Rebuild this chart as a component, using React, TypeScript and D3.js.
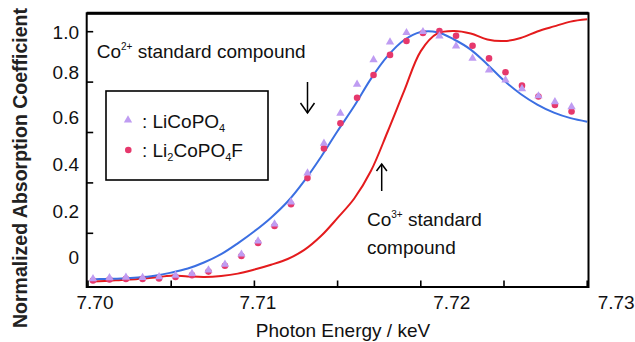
import React from 'react';
import * as d3 from 'd3';

// Reference spectra (Co K-edge XANES), sampled every 1 eV
const lineEnergies = [
  7.7002, 7.701, 7.702, 7.703, 7.704, 7.705, 7.706, 7.707, 7.708, 7.709, 7.71,
  7.711, 7.712, 7.713, 7.714, 7.715, 7.716, 7.717, 7.718, 7.719, 7.72,
  7.721, 7.722, 7.723, 7.724, 7.725, 7.726, 7.727, 7.728, 7.729, 7.73,
];
const co2Standard = [
  0.017, 0.019, 0.021, 0.025, 0.032, 0.044, 0.06, 0.085, 0.117, 0.16, 0.208,
  0.262, 0.326, 0.408, 0.503, 0.606, 0.705, 0.813, 0.903, 0.967, 0.999,
  0.998, 0.969, 0.929, 0.87, 0.806, 0.753, 0.711, 0.679, 0.657, 0.643,
];
const co3Standard = [
  0.009, 0.011, 0.015, 0.019, 0.025, 0.032, 0.029, 0.027, 0.031, 0.04, 0.056,
  0.075, 0.098, 0.134, 0.189, 0.261, 0.338, 0.447, 0.602, 0.765, 0.923,
  0.993, 1.003, 0.993, 0.969, 0.963, 0.975, 1.001, 1.021, 1.04, 1.049,
];

// Measured samples
const sampleEnergies = [
  7.7003, 7.70129, 7.70228, 7.70328, 7.70427, 7.70526, 7.70625, 7.70724, 7.70823, 7.70922,
  7.71022, 7.71121, 7.7122, 7.71319, 7.71418, 7.71517, 7.71617, 7.71716, 7.71815, 7.71914,
  7.72013, 7.72112, 7.72212, 7.72311, 7.7241, 7.72509, 7.72608, 7.72707, 7.72806, 7.72906,
];
const liCoPO4 = [
  0.019, 0.023, 0.025, 0.024, 0.027, 0.033, 0.04, 0.054, 0.077, 0.117,
  0.169, 0.237, 0.324, 0.439, 0.557, 0.676, 0.791, 0.888, 0.959, 0.996,
  1.0, 0.983, 0.943, 0.894, 0.848, 0.808, 0.773, 0.745, 0.722, 0.702,
];
const li2CoPO4F = [
  0.013, 0.017, 0.019, 0.019, 0.021, 0.027, 0.034, 0.048, 0.071, 0.11,
  0.162, 0.229, 0.315, 0.419, 0.537, 0.637, 0.738, 0.828, 0.908, 0.963,
  0.995, 1.003, 0.984, 0.944, 0.894, 0.839, 0.786, 0.743, 0.709, 0.683,
];

const xTickValues = [7.7, 7.705, 7.71, 7.715, 7.72, 7.725, 7.73];
const xLabelValues = [7.7, 7.71, 7.72, 7.73];
const xLabelShift = [7, 3.5, 31, 29];
const yTickValues = [0.2, 0.4, 0.6, 0.8, 1.0];
const yLabelValues = [0, 0.2, 0.4, 0.6, 0.8, 1.0];
const yLabelShift = [-26.7, -22.6, -19.2, -15.4, -9.6, 0];

const FONT = '"Liberation Sans", Arial, sans-serif';
const BLUE = '#3b6fe2';
const RED = '#e41b1d';
const LAVENDER = '#bf9cf2';
const PINK = '#e6386c';

export default function App() {
  const frame = { left: 86.7, right: 588.5, top: 13.3, bottom: 287 };
  const x = d3.scaleLinear().domain([7.7, 7.73]).range([88, 587.2]);
  const y = d3.scaleLinear().domain([0, 1]).range([283.7, 31.7]);

  const line = d3
    .line<[number, number]>()
    .x((d) => x(d[0]))
    .y((d) => y(d[1]))
    .curve(d3.curveCatmullRom.alpha(0.5));

  const bluePath = line(lineEnergies.map((e, i) => [e, co2Standard[i]]))!;
  const redPath = line(lineEnergies.map((e, i) => [e, co3Standard[i]]))!;

  const tri = d3.symbol().type(d3.symbolTriangle).size(30)()!;
  const circ = d3.symbol().type(d3.symbolCircle).size(34)()!;

  return (
    <svg
      width={635}
      height={342}
      style={{ position: 'absolute', left: 0, top: 0, background: '#fff' }}
      fontFamily={FONT}
    >
      <rect x={0} y={0} width={635} height={342} fill="#fff" />

      {/* curves */}
      <path d={redPath} fill="none" stroke={RED} strokeWidth={2} />
      <path d={bluePath} fill="none" stroke={BLUE} strokeWidth={2} />

      {/* sample markers */}
      {sampleEnergies.map((e, i) => (
        <path
          key={'c' + i}
          d={circ}
          transform={`translate(${x(e)},${y(li2CoPO4F[i])})`}
          fill={PINK}
        />
      ))}
      {sampleEnergies.map((e, i) => (
        <path
          key={'t' + i}
          d={tri}
          transform={`translate(${x(e)},${y(liCoPO4[i])})`}
          fill={LAVENDER}
        />
      ))}

      {/* frame */}
      <rect
        x={frame.left}
        y={frame.top}
        width={frame.right - frame.left}
        height={frame.bottom - frame.top}
        fill="none"
        stroke="#000"
        strokeWidth={2}
      />
      <line x1={frame.left} x2={frame.right} y1={frame.top} y2={frame.top} stroke="#000" strokeWidth={3} />

      {/* ticks */}
      {xTickValues.map((v) => (
        <line key={'xt' + v} x1={x(v)} x2={x(v)} y1={frame.bottom} y2={frame.bottom - 6.5} stroke="#000" strokeWidth={1.6} />
      ))}
      {yTickValues.map((v) => (
        <line key={'yt' + v} x1={frame.left} x2={frame.left + 6.5} y1={y(v)} y2={y(v)} stroke="#000" strokeWidth={1.6} />
      ))}

      {/* tick labels */}
      {xLabelValues.map((v, i) => (
        <text key={'xl' + v} x={x(v) + xLabelShift[i]} y={309} fontSize={19} textAnchor="middle" fill="#111">
          {v.toFixed(2)}
        </text>
      ))}
      {yLabelValues.map((v, i) => (
        <text
          key={'yl' + v}
          x={79}
          y={y(v) + yLabelShift[i]}
          dy="0.36em"
          fontSize={19}
          textAnchor="end"
          fill="#111"
        >
          {v === 0 ? '0' : v.toFixed(1)}
        </text>
      ))}

      {/* axis titles */}
      <text x={343} y={337} fontSize={19} textAnchor="middle" fill="#111">
        Photon Energy / keV
      </text>
      <text
        transform="translate(27,168) rotate(-90)"
        fontSize={19.5}
        fontWeight="bold"
        textAnchor="middle"
        fill="#222"
      >
        Normalized Absorption Coefficient
      </text>

      {/* annotations */}
      <text x={96.7} y={58.3} fontSize={19} fill="#111">
        <tspan>Co</tspan>
        <tspan fontSize={10} dy={-8.5}>2+</tspan>
        <tspan dy={8.5}> standard compound</tspan>
      </text>
      <text x={367} y={226} fontSize={19} fill="#111">
        <tspan>Co</tspan>
        <tspan fontSize={10} dy={-8.5}>3+</tspan>
        <tspan dy={8.5}> standard</tspan>
      </text>
      <text x={367} y={254.3} fontSize={19} fill="#111">
        compound
      </text>

      {/* arrows */}
      <g stroke="#000" strokeWidth={1.5} fill="none">
        <line x1={307.5} x2={307.5} y1={82} y2={113} />
        <polyline points="300.5,103 307.5,113 314.5,103" />
        <line x1={381.7} x2={381.7} y1={164} y2={191} />
        <polyline points="376.5,171 381.7,164 386.9,171" />
      </g>

      {/* legend */}
      <rect x={106} y={91} width={162} height={89} fill="#fff" stroke="#000" strokeWidth={1.6} />
      <path d={tri} transform="translate(128,120)" fill={LAVENDER} />
      <text x={142} y={128.3} fontSize={19} fill="#111">
        <tspan>: LiCoPO</tspan>
        <tspan fontSize={11} dy={4}>4</tspan>
      </text>
      <path d={circ} transform="translate(128.3,150)" fill={PINK} />
      <text x={142} y={157} fontSize={19} fill="#111">
        <tspan>: Li</tspan>
        <tspan fontSize={11} dy={4}>2</tspan>
        <tspan dy={-4}>CoPO</tspan>
        <tspan fontSize={11} dy={4}>4</tspan>
        <tspan dy={-4}>F</tspan>
      </text>
    </svg>
  );
}
